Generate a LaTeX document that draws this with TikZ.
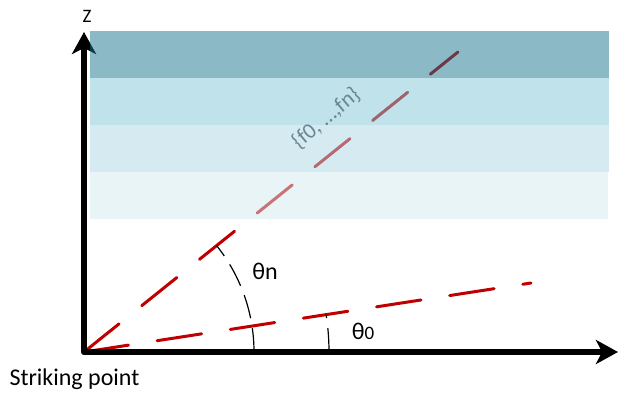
\documentclass[tikz,border=0pt]{standalone}
\usepackage{fontspec}
\setmainfont{Carlito}
\usetikzlibrary{arrows.meta}
\definecolor{rayred}{HTML}{C00000}
\definecolor{bandA}{HTML}{17738D}
\definecolor{bandB}{HTML}{81C5D7}
\definecolor{bandC}{HTML}{ADD5E3}
\definecolor{bandD}{HTML}{D1E9ED}
\definecolor{flabel}{HTML}{6A8791}
\tikzset{
    ray/.style={draw=rayred, line width=3pt, line cap=round, dash pattern=on 45pt off 29pt},
    axis/.style={line width=6.5pt, line join=round, {Stealth[length=22pt, width=24pt, inset=6pt]}-{Stealth[length=22pt, width=24pt, inset=6pt]}},
    band/.style={fill opacity=0.5},
    angarc/.style={line width=1.2pt, dash pattern=on 24pt off 10pt},
}
\begin{document}
\begin{tikzpicture}[x=1pt, y=1pt]
    \useasboundingbox (-84,-47) rectangle (535,352);
    \coordinate (O) at (0,0);
    \coordinate (Ztip) at (0,320);
    \coordinate (Xtip) at (534,0);
    \coordinate (Pn) at (374,300);
    \coordinate (P0) at (447,69);
    % rays
    \draw[ray] (O) -- (Pn);
    \draw[ray] (O) -- (P0);
    % axes
    \draw[axis] (Ztip) -- (O) -- (Xtip);
    % layers
    \fill[band, bandA] (6,274) rectangle (525,321);
    \fill[band, bandB] (6,227) rectangle (525,274);
    \fill[band, bandC] (6,180) rectangle (525,227);
    \fill[band, bandD] (6,133) rectangle (524,180);
    % angles
    \draw[angarc] (170,0) arc[start angle=0, end angle=38.7, radius=170];
    \draw[angarc] (245,0) arc[start angle=0, end angle=8.8, radius=245];
    \node (thetan) at (181,81) {\fontsize{24}{28}\selectfont θn};
    \node (theta0) at (279,21) {\fontsize{24}{28}\selectfont θ{\fontsize{19}{20}\selectfont 0}};
    \node[rotate=40, text=flabel, inner sep=0pt] (flist) at (242,234) {\fontsize{22}{24}\selectfont \{f0, …,fn\}};
    \node (zlabel) at (3,336) {\fontsize{19}{22}\selectfont Z};
    \node[anchor=base west] (strike) at (-78,-34) {\fontsize{24}{28}\selectfont Striking point};
\end{tikzpicture}
\end{document}
